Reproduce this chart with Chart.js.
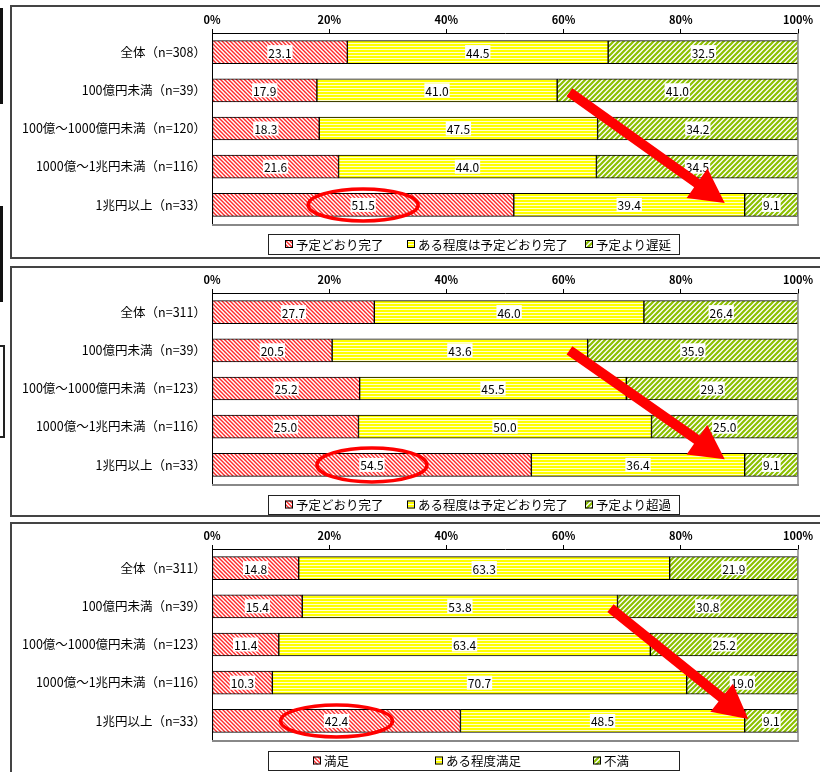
<!DOCTYPE html>
<html lang="ja">
<head>
<meta charset="utf-8">
<script src="https://cdn.jsdelivr.net/npm/chart.js@4.4.1/dist/chart.umd.min.js"></script>
<style>
  html, body { margin: 0; padding: 0; background: #fff; }
  body { width: 820px; height: 772px; overflow: hidden; position: relative; }
  .panel { position: absolute; left: 10px; width: 840px; border: 2px solid #444; box-sizing: border-box; }
  .edge { position: absolute; left: -20px; box-sizing: border-box; }
  canvas { position: absolute; left: 10px; }
</style>
</head>
<body>
<div class="edge" style="top:8px;height:96px;width:23px;border:3px solid #111;"></div>
<div class="edge" style="top:206px;height:96px;width:23px;border:3px solid #111;"></div>
<div class="edge" style="top:345px;height:93px;width:25px;border:2px solid #222;"></div>

<div class="panel" style="top:5px;height:254px;"></div>
<div class="panel" style="top:266px;height:251px;"></div>
<div class="panel" style="top:522px;height:270px;"></div>

<canvas id="c1" width="810" height="253" style="top:5px"></canvas>
<canvas id="c2" width="810" height="253" style="top:265px"></canvas>
<canvas id="c3" width="810" height="253" style="top:521px"></canvas>

<script>
// 行ラベル（売上規模別）
const rowsA = ['全体（n=308）', '100億円未満（n=39）', '100億～1000億円未満（n=120）', '1000億～1兆円未満（n=116）', '1兆円以上（n=33）'];
const rowsB = ['全体（n=311）', '100億円未満（n=39）', '100億～1000億円未満（n=123）', '1000億～1兆円未満（n=116）', '1兆円以上（n=33）'];
const xTicks = [0, 20, 40, 60, 80, 100];

// 期間
const termNames = ['予定どおり完了', 'ある程度は予定どおり完了', '予定より遅延'];
const termOnPlan = [23.1, 17.9, 18.3, 21.6, 51.5];
const termMostly = [44.5, 41.0, 47.5, 44.0, 39.4];
const termLate = [32.5, 41.0, 34.2, 34.5, 9.1];

// 費用
const costNames = ['予定どおり完了', 'ある程度は予定どおり完了', '予定より超過'];
const costOnPlan = [27.7, 20.5, 25.2, 25.0, 54.5];
const costMostly = [46.0, 43.6, 45.5, 50.0, 36.4];
const costOver = [26.4, 35.9, 29.3, 25.0, 9.1];

// 満足度
const satNames = ['満足', 'ある程度満足', '不満'];
const satYes = [14.8, 15.4, 11.4, 10.3, 42.4];
const satSome = [63.3, 53.8, 63.4, 70.7, 48.5];
const satNo = [21.9, 30.8, 25.2, 19.0, 9.1];

const FONT = '"Noto Sans CJK JP", "Noto Sans", sans-serif';

function makePattern(kind) {
  const c = document.createElement('canvas');
  const g = c.getContext('2d');
  if (kind === 'red') {
    c.width = c.height = 4;
    g.fillStyle = '#fff'; g.fillRect(0, 0, 4, 4);
    g.strokeStyle = '#ff2a2a'; g.lineWidth = 1.4;
    g.beginPath();
    g.moveTo(-1, -1); g.lineTo(5, 5);
    g.moveTo(-1, 3); g.lineTo(1, 5);
    g.moveTo(3, -1); g.lineTo(5, 1);
    g.stroke();
  } else if (kind === 'yellow') {
    c.width = 1; c.height = 3;
    g.fillStyle = '#ffff00'; g.fillRect(0, 0, 1, 2);
    g.fillStyle = '#ffffd0'; g.fillRect(0, 2, 1, 1);
  } else {
    c.width = c.height = 5;
    g.fillStyle = '#fff'; g.fillRect(0, 0, 5, 5);
    g.strokeStyle = '#8cc000'; g.lineWidth = 2.2;
    g.beginPath();
    g.moveTo(-1, 6); g.lineTo(6, -1);
    g.moveTo(-1, 1); g.lineTo(1, -1);
    g.moveTo(4, 6); g.lineTo(6, 4);
    g.stroke();
  }
  return g.createPattern(c, 'repeat');
}
const fills = [makePattern('red'), makePattern('yellow'), makePattern('green')];

// 値ラベル（白地）
const valueLabels = {
  id: 'valueLabels',
  afterDatasetsDraw(chart) {
    const ctx = chart.ctx;
    ctx.save();
    ctx.font = '12px ' + FONT;
    ctx.textAlign = 'center';
    ctx.textBaseline = 'middle';
    chart.data.datasets.forEach((ds, i) => {
      chart.getDatasetMeta(i).data.forEach((bar, j) => {
        const { x, y, base } = bar.getProps(['x', 'y', 'base'], true);
        const cx = (x + base) / 2;
        const txt = ds.data[j].toFixed(1);
        const w = ctx.measureText(txt).width + 2;
        ctx.fillStyle = '#fff';
        ctx.fillRect(cx - w / 2, y - 7, w, 14);
        ctx.fillStyle = '#000';
        ctx.fillText(txt, cx, y + 1);
      });
    });
    ctx.restore();
  }
};

// 枠・凡例・強調（楕円と矢印）
const decorations = {
  id: 'decorations',
  afterDraw(chart, args, opts) {
    const ctx = chart.ctx;
    const a = chart.chartArea;
    const xs = chart.scales.x, ys = chart.scales.y;
    ctx.save();
    // 右・下の枠線
    ctx.strokeStyle = '#888';
    ctx.lineWidth = 1.5;
    ctx.beginPath();
    ctx.moveTo(a.right, a.top); ctx.lineTo(a.right, a.bottom + 1);
    ctx.stroke();
    ctx.lineWidth = 2;
    ctx.beginPath();
    ctx.moveTo(a.left, a.bottom + 1); ctx.lineTo(a.right + 1, a.bottom + 1);
    ctx.stroke();

    // 凡例
    const lb = opts.legendBox;
    ctx.strokeStyle = '#222';
    ctx.lineWidth = 1;
    ctx.strokeRect(lb.x + 0.5, lb.y + 0.5, lb.w, lb.h);
    ctx.font = '12.5px ' + FONT;
    ctx.textBaseline = 'middle';
    ctx.textAlign = 'left';
    const my = lb.y + lb.h / 2;
    chart.data.datasets.forEach((ds, i) => {
      const mx = opts.legendX[i];
      ctx.fillStyle = ds.backgroundColor;
      ctx.fillRect(mx, my - 4, 8, 8);
      ctx.strokeStyle = '#000';
      ctx.strokeRect(mx + 0.5, my - 3.5, 7, 7);
      ctx.fillStyle = '#000';
      ctx.fillText(ds.label, mx + 11, my + 1);
    });

    // 楕円
    const el = opts.ellipse;
    const bar = chart.getDatasetMeta(el.ds).data[el.row];
    const ecx = (bar.x + bar.base) / 2;
    ctx.strokeStyle = '#ff0000';
    ctx.lineWidth = 3.5;
    ctx.beginPath();
    ctx.ellipse(ecx, bar.y, el.rx, el.ry, 0, 0, Math.PI * 2);
    ctx.stroke();

    // 矢印
    const ar = opts.arrow;
    const x0 = xs.getPixelForValue(ar.from[0]), y0 = ys.getPixelForValue(ar.from[1]);
    const x1 = xs.getPixelForValue(ar.to[0]), y1 = ys.getPixelForValue(ar.to[1]);
    const len = Math.hypot(x1 - x0, y1 - y0);
    const ux = (x1 - x0) / len, uy = (y1 - y0) / len;
    const nx = -uy, ny = ux;
    const L = 34, H = 18, w = 5;
    const bx = x1 - ux * L, by = y1 - uy * L;
    ctx.fillStyle = '#ff0000';
    ctx.beginPath();
    ctx.moveTo(x0 + nx * w, y0 + ny * w);
    ctx.lineTo(bx + nx * w, by + ny * w);
    ctx.lineTo(bx + nx * H, by + ny * H);
    ctx.lineTo(x1, y1);
    ctx.lineTo(bx - nx * H, by - ny * H);
    ctx.lineTo(bx - nx * w, by - ny * w);
    ctx.lineTo(x0 - nx * w, y0 - ny * w);
    ctx.closePath();
    ctx.fill();
    ctx.restore();
  }
};

function buildChart(id, rows, names, series, marks) {
  return new Chart(document.getElementById(id).getContext('2d'), {
    type: 'bar',
    data: {
      labels: rows,
      datasets: series.map((d, i) => ({
        label: names[i], data: d, backgroundColor: fills[i],
        borderColor: '#000', borderWidth: 1, borderSkipped: false, barThickness: 23
      }))
    },
    options: {
      responsive: false, animation: false, indexAxis: 'y',
      layout: { padding: { left: 2, right: 22, top: 0, bottom: 34 } },
      plugins: { legend: { display: false }, tooltip: { enabled: false }, decorations: marks },
      scales: {
        x: {
          position: 'top', stacked: true, min: 0, max: 100,
          afterBuildTicks: s => { s.ticks = xTicks.map(v => ({ value: v })); },
          ticks: { callback: v => v + '%', color: '#000', font: { size: 11, weight: 'bold', family: FONT }, padding: 3, maxRotation: 0 },
          grid: { drawOnChartArea: false, tickLength: 4, color: '#000' },
          border: { color: '#000', width: 1 },
          afterFit: s => { s.height = 28; }
        },
        y: {
          stacked: true,
          ticks: { color: '#000', font: { size: 12.5, family: FONT }, padding: 6 },
          grid: { display: false, drawTicks: false },
          border: { color: '#000', width: 1 },
          afterFit: s => { s.width = 200; }
        }
      }
    },
    plugins: [valueLabels, decorations]
  });
}

buildChart('c1', rowsA, termNames, [termOnPlan, termMostly, termLate], {
  legendBox: { x: 258, y: 229, w: 411, h: 20 }, legendX: [275, 397, 575],
  ellipse: { ds: 0, row: 4, rx: 55, ry: 16 },
  arrow: { from: [61, 1.05], to: [87.5, 3.95] }
});
buildChart('c2', rowsB, costNames, [costOnPlan, costMostly, costOver], {
  legendBox: { x: 258, y: 230, w: 411, h: 19 }, legendX: [275, 397, 575],
  ellipse: { ds: 0, row: 4, rx: 55, ry: 17 },
  arrow: { from: [61, 1.0], to: [87.5, 3.85] }
});
buildChart('c3', rowsB, satNames, [satYes, satSome, satNo], {
  legendBox: { x: 258, y: 230, w: 411, h: 19 }, legendX: [303, 425, 583],
  ellipse: { ds: 0, row: 4, rx: 56, ry: 16 },
  arrow: { from: [68, 1.05], to: [91.5, 3.95] }
});
</script>
</body>
</html>
